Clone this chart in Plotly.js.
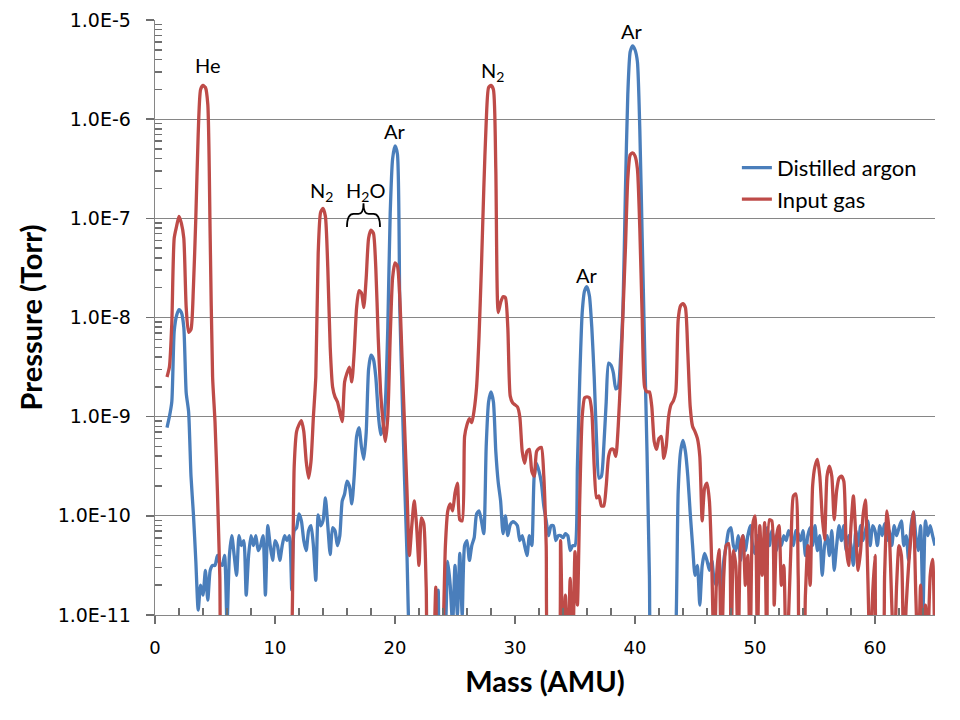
<!DOCTYPE html>
<html><head><meta charset="utf-8">
<script src="https://cdn.plot.ly/plotly-3.0.1.min.js"></script>
<style>html,body{margin:0;padding:0;background:#fff}</style>
</head><body>
<div id="chart" style="width:960px;height:720px"></div>
<script>
// Mass scan: first sample and step (AMU)
const massStart = 1.0;
const massStep = 0.2;

// log10 of pressure (Torr), one row per AMU: m.0, m.2, m.4, m.6, m.8
const logPDistilledArgon = [
/* 1*/ -9.11,-9.0,-8.85,-8.14,-7.98,
/* 2*/ -7.92,-7.95,-8.1,-8.76,-8.95,
/* 3*/ -9.6,-9.98,-10.45,-10.95,-10.7,
/* 4*/ -10.8,-10.55,-10.85,-10.55,-10.5,
/* 5*/ -10.5,-10.4,-10.48,-10.5,-10.4,
/* 6*/ -11.1,-10.4,-10.2,-10.4,-10.6,
/* 7*/ -10.2,-10.3,-10.25,-10.8,-10.4,
/* 8*/ -10.2,-10.3,-10.2,-10.35,-10.3,
/* 9*/ -10.2,-10.8,-10.1,-10.3,-10.45,
/*10*/ -10.25,-10.3,-10.45,-10.3,-10.2,
/*11*/ -10.25,-10.2,-10.75,-10.15,-10.12,
/*12*/ -9.98,-10.05,-10.25,-10.35,-10.15,
/*13*/ -10.1,-10.3,-10.65,-9.99,-10.1,
/*14*/ -10.05,-9.82,-10.1,-10.39,-10.12,
/*15*/ -10.15,-10.3,-10.2,-9.85,-9.78,
/*16*/ -9.65,-9.7,-9.88,-9.6,-9.2,
/*17*/ -9.11,-9.3,-9.43,-9.16,-8.52,
/*18*/ -8.38,-8.42,-8.6,-8.96,-9.18,
/*19*/ -9.11,-8.85,-8.1,-6.95,-6.4,
/*20*/ -6.27,-6.35,-7.9,-8.8,-9.65,
/*21*/ -10.4,-11.3,-11.5,-11.5,-11.5,
/*22*/ -11.5,-11.5,-11.5,-11.5,-11.5,
/*23*/ -11.5,-11.5,-11.5,-10.75,-11.5,
/*24*/ -11.5,-11.2,-10.46,-10.7,-11.1,
/*25*/ -10.5,-11.0,-10.38,-11.0,-10.3,
/*26*/ -10.25,-10.45,-10.3,-10.22,-9.98,
/*27*/ -9.95,-10.05,-10.18,-9.3,-8.85,
/*28*/ -8.75,-8.85,-9.35,-9.66,-9.85,
/*29*/ -10.18,-10.0,-10.2,-10.09,-10.06,
/*30*/ -10.07,-10.1,-10.25,-10.2,-10.3,
/*31*/ -10.4,-10.2,-10.3,-9.6,-9.47,
/*32*/ -9.55,-9.67,-9.9,-10.05,-10.2,
/*33*/ -10.1,-10.1,-10.25,-10.2,-10.2,
/*34*/ -10.22,-10.18,-10.2,-10.35,-10.3,
/*35*/ -10.3,-9.5,-8.6,-7.95,-7.73,
/*36*/ -7.69,-7.78,-8.1,-8.6,-9.25,
/*37*/ -9.62,-9.6,-9.3,-8.85,-8.46,
/*38*/ -8.48,-8.56,-8.72,-8.7,-8.4,
/*39*/ -7.9,-6.73,-5.75,-5.32,-5.26,
/*40*/ -5.3,-5.42,-6.1,-7.2,-8.3,
/*41*/ -9.35,-10.6,-11.5,-11.5,-11.5,
/*42*/ -11.5,-11.5,-11.5,-11.5,-11.5,
/*43*/ -11.5,-11.5,-11.2,-9.75,-9.35,
/*44*/ -9.24,-9.35,-9.6,-9.97,-10.3,
/*45*/ -10.6,-10.5,-10.9,-10.5,-10.38,
/*46*/ -10.45,-10.55,-10.45,-10.65,-10.7,
/*47*/ -10.4,-10.9,-10.45,-10.3,-10.15,
/*48*/ -10.12,-10.3,-10.35,-10.2,-10.45,
/*49*/ -10.2,-10.35,-10.2,-10.1,-10.3,
/*50*/ -10.38,-10.2,-10.3,-10.55,-10.25,
/*51*/ -10.12,-10.3,-10.15,-10.25,-10.35,
/*52*/ -10.2,-10.3,-10.2,-10.25,-10.15,
/*53*/ -10.2,-10.3,-10.15,-10.18,-10.25,
/*54*/ -10.15,-10.4,-10.2,-10.12,-10.3,
/*55*/ -10.1,-10.35,-10.2,-10.6,-10.3,
/*56*/ -10.2,-10.4,-10.15,-10.55,-10.3,
/*57*/ -10.1,-10.25,-10.1,-10.35,-10.2,
/*58*/ -10.3,-10.5,-10.15,-10.3,-10.1,
/*59*/ -10.25,-10.15,-10.05,-10.3,-10.1,
/*60*/ -10.15,-10.3,-10.1,-10.2,-10.08,
/*61*/ -10.25,-10.15,-10.3,-10.1,-10.2,
/*62*/ -10.12,-10.05,-10.3,-10.2,-10.45,
/*63*/ -10.1,-9.96,-10.2,-10.35,-10.1,
/*64*/ -10.95,-10.05,-10.2,-10.1,-10.2,
/*65*/ -10.3
];

const logPInputGas = [
/* 1*/ -8.6,-8.5,-8.06,-7.2,-7.08,
/* 2*/ -6.98,-7.05,-7.2,-7.9,-8.15,
/* 3*/ -8.12,-7.7,-7.0,-6.15,-5.7,
/* 4*/ -5.66,-5.68,-5.85,-7.2,-8.6,
/* 5*/ -9.05,-9.75,-10.6,-11.5,-11.5,
/* 6*/ -11.5,-11.5,-11.5,-11.5,-11.5,
/* 7*/ -11.5,-11.5,-11.5,-11.5,-11.5,
/* 8*/ -11.5,-11.5,-11.5,-11.5,-11.5,
/* 9*/ -11.5,-11.5,-11.5,-11.5,-11.5,
/*10*/ -11.5,-11.5,-11.5,-11.5,-11.5,
/*11*/ -11.5,-11.5,-11.2,-9.5,-9.15,
/*12*/ -9.08,-9.04,-9.15,-9.45,-9.62,
/*13*/ -9.45,-9.0,-8.6,-7.35,-6.94,
/*14*/ -6.9,-6.98,-7.5,-8.3,-8.7,
/*15*/ -8.8,-8.85,-8.95,-9.05,-8.65,
/*16*/ -8.56,-8.5,-8.65,-8.35,-7.9,
/*17*/ -7.73,-7.75,-7.9,-7.6,-7.2,
/*18*/ -7.12,-7.15,-7.5,-8.2,-8.75,
/*19*/ -9.05,-9.25,-9.0,-8.2,-7.6,
/*20*/ -7.45,-7.48,-7.8,-8.45,-9.1,
/*21*/ -9.75,-10.4,-10.1,-9.85,-10.1,
/*22*/ -10.5,-10.02,-10.08,-10.72,-11.5,
/*23*/ -11.5,-11.4,-10.72,-11.5,-11.5,
/*24*/ -11.2,-10.3,-9.95,-9.88,-9.95,
/*25*/ -9.77,-9.67,-10.04,-10.05,-9.2,
/*26*/ -9.08,-9.02,-9.06,-8.93,-8.7,
/*27*/ -8.2,-7.5,-6.7,-6.03,-5.68,
/*28*/ -5.66,-5.7,-6.5,-7.95,-7.85,
/*29*/ -7.79,-7.8,-8.1,-8.79,-8.86,
/*30*/ -8.88,-8.9,-9.0,-9.35,-9.47,
/*31*/ -9.35,-9.33,-9.55,-9.6,-9.35,
/*32*/ -9.32,-9.31,-9.6,-10.3,-11.5,
/*33*/ -11.5,-11.5,-11.5,-11.5,-10.25,
/*34*/ -11.5,-10.8,-11.5,-10.63,-11.5,
/*35*/ -10.36,-10.9,-9.81,-9.0,-8.81,
/*36*/ -8.8,-8.81,-8.95,-9.5,-9.82,
/*37*/ -9.8,-9.9,-9.9,-9.7,-9.4,
/*38*/ -9.33,-9.33,-9.4,-9.1,-8.6,
/*39*/ -7.95,-7.31,-6.6,-6.36,-6.34,
/*40*/ -6.37,-6.5,-7.1,-8.0,-8.7,
/*41*/ -8.75,-8.75,-8.9,-9.25,-9.33,
/*42*/ -9.22,-9.2,-9.42,-9.3,-9.0,
/*43*/ -8.88,-8.84,-8.75,-8.02,-7.88,
/*44*/ -7.86,-7.9,-8.35,-8.9,-9.1,
/*45*/ -9.15,-9.22,-9.4,-10.05,-9.72,
/*46*/ -9.67,-9.85,-10.5,-11.5,-10.6,
/*47*/ -10.34,-11.5,-10.6,-10.3,-10.28,
/*48*/ -11.5,-10.35,-10.5,-11.5,-10.3,
/*49*/ -10.2,-10.7,-10.4,-11.5,-10.1,
/*50*/ -10.0,-11.3,-10.1,-10.6,-10.07,
/*51*/ -11.5,-10.04,-10.05,-10.9,-10.2,
/*52*/ -10.1,-10.7,-10.5,-11.5,-11.0,
/*53*/ -10.3,-9.8,-9.78,-10.6,-11.5,
/*54*/ -11.5,-10.8,-10.3,-10.7,-9.7,
/*55*/ -9.5,-9.43,-9.6,-10.0,-10.24,
/*56*/ -9.6,-9.5,-9.6,-10.04,-9.75,
/*57*/ -9.62,-9.6,-9.65,-10.3,-10.5,
/*58*/ -10.1,-9.8,-10.2,-10.55,-10.35,
/*59*/ -10.0,-9.84,-10.6,-11.5,-10.8,
/*60*/ -10.4,-11.5,-11.5,-11.5,-10.6,
/*61*/ -9.95,-10.2,-10.9,-11.5,-10.7,
/*62*/ -10.3,-10.4,-11.5,-10.9,-10.5,
/*63*/ -10.2,-9.96,-10.8,-11.5,-10.7,
/*64*/ -11.5,-10.9,-11.3,-10.6,-10.44,
/*65*/ -11.5
];

const seriesNames = ['Distilled argon', 'Input gas'];
const yTickVals = [1e-11, 1e-10, 1e-9, 1e-8, 1e-7, 1e-6, 1e-5];
const yTickText = ['1.0E-11', '1.0E-10', '1.0E-9', '1.0E-8', '1.0E-7', '1.0E-6', '1.0E-5'];
const xMinorTickVals = [2,4,6,8, 12,14,16,18, 22,24,26,28, 32,34,36,38, 42,44,46,48, 52,54,56,58, 62,64];
const yMinorDigits = [2,3,4,5,6,7,8,9];
const peakLabels = ['He', 'N<sub>2</sub>', 'H<sub>2</sub>O', 'Ar', 'N<sub>2</sub>', 'Ar', 'Ar'];

const yMinorTickVals = yTickVals.slice(0, -1).flatMap(d => yMinorDigits.map(k => k * d));

const toP = v => Math.pow(10, v);
const grid = '#868686';
const tickCol = '#6f6f6f';
const labelFont = {family: 'Lato', size: 20, color: '#000'};

const traces = [
  {name: seriesNames[0], x0: massStart, dx: massStep, y: logPDistilledArgon.map(toP),
   type: 'scatter', mode: 'lines', line: {color: '#4A7EBB', width: 3.3, shape: 'spline', smoothing: 0.6}},
  {name: seriesNames[1], x0: massStart, dx: massStep, y: logPInputGas.map(toP),
   type: 'scatter', mode: 'lines', line: {color: '#BE4B48', width: 3.3, shape: 'spline', smoothing: 0.6}},
  // empty carrier for the minor-tick overlay axes
  {x: [], y: [], xaxis: 'x2', yaxis: 'y2', type: 'scatter', mode: 'lines', showlegend: false, hoverinfo: 'skip'}
];

const ann = (i, x, y) => ({text: peakLabels[i], x: x, y: y, xref: 'x', yref: 'y', showarrow: false, font: labelFont});

const layout = {
  width: 960, height: 720,
  margin: {l: 155, r: 25, t: 20, b: 105},
  paper_bgcolor: '#fff', plot_bgcolor: '#fff',
  showlegend: true,
  legend: {x: 0.746, y: 0.787, xanchor: 'left', yanchor: 'top', bgcolor: 'rgba(0,0,0,0)',
           font: {family: 'Lato', size: 22, color: '#000'}},
  xaxis: {
    range: [0, 65], dtick: 10, tick0: 0,
    showgrid: false, zeroline: false,
    showline: true, linecolor: grid, linewidth: 1.3,
    ticks: 'outside', ticklen: 8, tickcolor: tickCol, tickwidth: 1.5,
    tickfont: {family: 'DejaVu Sans', size: 18, color: '#000'}, ticklabelstandoff: 8,
    title: {text: 'Mass (AMU)', font: {family: 'Lato', size: 29, weight: 'bold', color: '#000'}, standoff: 14}
  },
  yaxis: {
    type: 'log', range: [-11, -5],
    tickmode: 'array', tickvals: yTickVals, ticktext: yTickText,
    showgrid: true, gridcolor: grid, gridwidth: 1, zeroline: false,
    showline: true, linecolor: grid, linewidth: 1.3,
    ticks: 'outside', ticklen: 8, tickcolor: tickCol, tickwidth: 1.5,
    tickfont: {family: 'DejaVu Sans', size: 19, color: '#000'}, ticklabelstandoff: 11,
    title: {text: 'Pressure (Torr)', font: {family: 'Lato', size: 29, weight: 'bold', color: '#000'}, standoff: 6}
  },
  xaxis2: {
    overlaying: 'x', anchor: 'y', side: 'bottom', range: [0, 65],
    tickmode: 'array', tickvals: xMinorTickVals,
    ticks: 'inside', ticklen: 7, tickcolor: tickCol, tickwidth: 1.5,
    showticklabels: false, showgrid: false, zeroline: false, showline: false
  },
  yaxis2: {
    overlaying: 'y', anchor: 'x', side: 'left', type: 'log', range: [-11, -5],
    tickmode: 'array', tickvals: yMinorTickVals,
    ticks: 'inside', ticklen: 7, tickcolor: tickCol, tickwidth: 1.5,
    showticklabels: false, showgrid: false, zeroline: false, showline: false
  },
  annotations: [
    ann(0, 4.4, -5.449),
    ann(1, 13.85, -6.734),
    ann(2, 17.5, -6.734),
    ann(3, 20.0, -6.12),
    ann(4, 28.1, -5.524),
    ann(5, 36.0, -7.571),
    ann(6, 39.75, -5.111)
  ],
  shapes: [{
    type: 'path', xref: 'x', yref: 'paper',
    path: 'M 16.0,0.652 Q 16.0,0.674 16.55,0.674 L 16.95,0.674 Q 17.375,0.674 17.375,0.692 Q 17.375,0.674 17.8,0.674 L 18.2,0.674 Q 18.75,0.674 18.75,0.652',
    line: {color: '#000', width: 1.8}
  }]
};

Plotly.newPlot('chart', traces, layout, {displayModeBar: false, staticPlot: true});
</script>
</body></html>
